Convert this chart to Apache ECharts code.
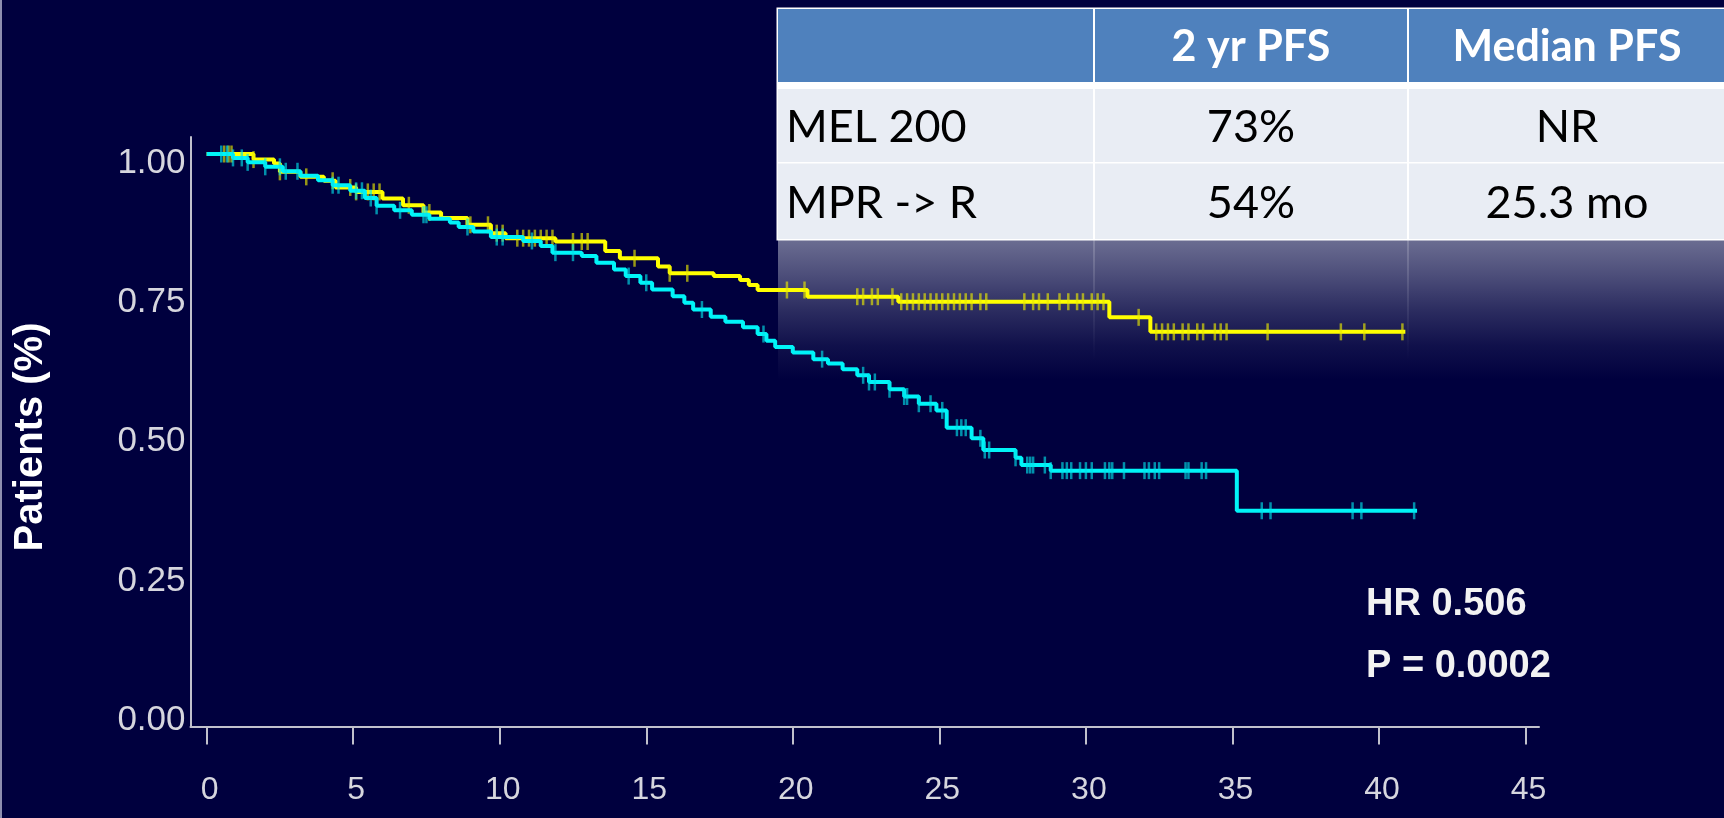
<!DOCTYPE html>
<html>
<head>
<meta charset="utf-8">
<style>
  html, body { margin: 0; padding: 0; background: #00003e; }
  #chart { width: 1724px; height: 818px; }
</style>
<script src="https://cdn.jsdelivr.net/npm/echarts@6/dist/echarts.min.js"></script>
</head>
<body>
<div id="chart"></div>
<script>
// Kaplan–Meier progression-free survival: months on x, proportion of patients on y.
const xTicks = [0, 5, 10, 15, 20, 25, 30, 35, 40, 45];
const yTicks = [0, 0.25, 0.5, 0.75, 1];

// [month, survival after the drop at that month]
const mel200Steps = [
  [0, 1], [1.6, 0.99], [2.3, 0.983], [2.5, 0.968], [3.2, 0.959], [4.0, 0.952],
  [4.4, 0.94], [5.1, 0.932], [6.0, 0.92], [6.7, 0.908], [7.4, 0.895], [8.0, 0.885],
  [8.9, 0.873], [9.7, 0.858], [10.2, 0.849], [11.9, 0.843], [13.6, 0.826], [14.1, 0.813],
  [15.4, 0.798], [15.8, 0.786], [17.3, 0.781], [18.2, 0.774], [18.5, 0.765], [18.8, 0.756],
  [20.5, 0.744], [23.6, 0.735], [30.8, 0.707], [32.2, 0.681], [40.9, 0.681]
];
const mel200Censored = [
  0.6, 0.75, 0.85, 1.6, 2.5, 3.4, 4.3, 4.9, 5.1, 5.5, 5.7, 5.9, 6.9, 7.6, 9.0, 9.6, 9.9, 10.1,
  10.6, 10.8, 11.0, 11.2, 11.4, 11.6, 11.8, 12.5, 12.8, 13.0, 14.6, 15.8, 16.4, 19.8, 20.4,
  22.2, 22.4, 22.7, 22.9, 23.4, 23.7, 23.9, 24.1, 24.3, 24.5, 24.7, 24.9, 25.1, 25.3, 25.5,
  25.7, 25.9, 26.1, 26.4, 26.6, 27.9, 28.2, 28.4, 28.7, 29.1, 29.4, 29.7, 29.9, 30.2, 30.4,
  30.6, 31.8, 32.4, 32.6, 32.8, 33.0, 33.3, 33.5, 33.8, 34.0, 34.4, 34.6, 34.8, 36.2, 38.7,
  39.5, 40.8
];

const mprSteps = [
  [0, 1], [0.9, 0.993], [1.4, 0.985], [2.0, 0.977], [2.6, 0.969], [3.2, 0.961], [3.8, 0.953],
  [4.3, 0.944], [4.9, 0.934], [5.4, 0.921], [5.8, 0.907], [6.4, 0.899], [7.0, 0.891],
  [7.6, 0.884], [8.3, 0.877], [8.6, 0.869], [9.1, 0.861], [9.7, 0.851], [10.8, 0.844],
  [11.4, 0.835], [11.8, 0.823], [12.8, 0.817], [13.3, 0.805], [13.9, 0.793], [14.3, 0.781],
  [14.8, 0.769], [15.2, 0.757], [15.9, 0.745], [16.3, 0.733], [16.6, 0.721], [17.2, 0.708],
  [17.7, 0.699], [18.3, 0.689], [18.8, 0.677], [19.1, 0.665], [19.4, 0.654], [20.0, 0.644],
  [20.7, 0.632], [21.2, 0.624], [21.7, 0.614], [22.2, 0.603], [22.6, 0.591], [23.3, 0.578],
  [23.8, 0.565], [24.3, 0.552], [24.9, 0.54], [25.25, 0.509], [26.1, 0.49], [26.5, 0.469],
  [27.6, 0.455], [27.8, 0.442], [28.8, 0.432], [35.15, 0.36], [41.3, 0.36]
];
const mprCensored = [
  0.5, 0.7, 0.9, 1.2, 1.4, 2.0, 2.5, 2.7, 3.1, 4.3, 4.5, 5.1, 5.3, 5.6, 5.8, 6.6, 7.4, 7.5,
  8.9, 9.9, 10.1, 11.1, 11.9, 12.5, 14.4, 15.0, 16.9, 19.0, 21.0, 22.4, 22.6, 22.8, 23.3,
  23.8, 23.9, 24.3, 24.7, 25.1, 25.6, 25.75, 25.9, 26.4, 26.55, 26.7, 27.6, 28.0, 28.1, 28.2,
  28.6, 28.8, 29.2, 29.35, 29.5, 29.8, 30.0, 30.2, 30.65, 30.8, 30.9, 31.3, 32.0, 32.15,
  32.35, 32.5, 33.4, 33.5, 33.95, 34.1, 36.0, 36.3, 39.1, 39.4, 41.2
];

const tableHeader = ['', '2 yr PFS', 'Median PFS'];
const tableRows = [
  ['MEL 200', '73%', 'NR'],
  ['MPR -> R', '54%', '25.3 mo']
];
const statLines = ['HR 0.506', 'P = 0.0002'];
const yAxisTitle = 'Patients (%)';

// survival value of a step curve at time t (value after the last drop at or before t)
function survivalAt(steps, t) {
  let v = steps[0][1];
  for (const [ti, vi] of steps) {
    if (ti <= t) v = vi; else break;
  }
  return v;
}

const AXIS_COLOR = '#c0c0cc';
const LABEL_COLOR = '#d6d6de';
const YELLOW = '#ffff00';
const CYAN = '#00f4f8';

// table geometry
const tblLeft = 778, tblRight = 1726;
const colEdges = [778, 1094, 1408, 1726];
const rowEdges = [[9, 82], [89, 162], [163.5, 239]];

function tableGraphics() {
  const els = [];
  els.push({ type: 'rect', z: 10, shape: { x: tblLeft - 1.5, y: 7.5, width: tblRight - tblLeft + 2, height: 233 },
             style: { fill: '#ffffff' } });
  for (let r = 0; r < 3; r++) {
    const [y0, y1] = rowEdges[r];
    const cells = r === 0 ? tableHeader : tableRows[r - 1];
    for (let c = 0; c < 3; c++) {
      const x0 = colEdges[c] + (c === 0 ? 0 : 1), x1 = colEdges[c + 1] - 1;
      els.push({ type: 'rect', z: 11, shape: { x: x0, y: y0, width: x1 - x0, height: y1 - y0 },
                 style: { fill: r === 0 ? '#4f81bd' : '#e9edf4' } });
      if (cells[c]) {
        const left = c === 0;
        els.push({ type: 'text', z: 12,
          x: left ? x0 + 8 : (x0 + x1) / 2, y: (y0 + y1) / 2 + 2,
          style: {
            text: cells[c],
            font: r === 0 ? 'bold 43px Lato' : '45px Lato',
            fill: r === 0 ? '#ffffff' : '#000000',
            align: left ? 'left' : 'center',
            verticalAlign: 'middle'
          } });
      }
    }
  }
  return els;
}

const chart = echarts.init(document.getElementById('chart'), null, { renderer: 'canvas' });

const option = {
  backgroundColor: '#00003e',
  animation: false,
  grid: { left: 190.5, right: 185, top: 137, bottom: 91.5 },
  xAxis: {
    type: 'value',
    min: -0.55, max: 45.46,
    splitLine: { show: false },
    axisLine: { show: true, onZero: false, lineStyle: { color: AXIS_COLOR, width: 2 } },
    axisTick: { show: true, customValues: xTicks, length: 18, lineStyle: { color: AXIS_COLOR, width: 2 } },
    axisLabel: {
      customValues: xTicks, margin: 48, fontSize: 32, color: LABEL_COLOR,
      fontFamily: 'Liberation Sans', padding: [0, 0, 0, 6]
    }
  },
  yAxis: {
    type: 'value',
    min: -0.027, max: 1.0305,
    splitLine: { show: false },
    axisLine: { show: true, onZero: false, lineStyle: { color: AXIS_COLOR, width: 2 } },
    axisTick: { show: false },
    axisLabel: {
      customValues: yTicks, formatter: v => v.toFixed(2), margin: 5, fontSize: 35,
      color: LABEL_COLOR, fontFamily: 'Liberation Sans',
      verticalAlign: 'top', lineHeight: 18
    }
  },
  graphic: {
    elements: [
      { type: 'rect', z: 0, shape: { x: 0, y: 0, width: 2, height: 818 }, style: { fill: 'rgba(190,190,215,0.75)' } },
      { type: 'rect', z: 0, shape: { x: 778, y: 240, width: 948, height: 140 },
        style: { fill: new echarts.graphic.LinearGradient(0, 0, 0, 1, [
          { offset: 0, color: 'rgba(233,237,244,0.46)' },
          { offset: 0.25, color: 'rgba(233,237,244,0.33)' },
          { offset: 0.5, color: 'rgba(233,237,244,0.19)' },
          { offset: 0.75, color: 'rgba(233,237,244,0.07)' },
          { offset: 1, color: 'rgba(233,237,244,0)' }
        ]) } },
      ...[1094, 1408].map(x => ({ type: 'rect', z: 0, shape: { x: x - 1, y: 240, width: 2, height: 120 },
        style: { fill: new echarts.graphic.LinearGradient(0, 0, 0, 1, [
          { offset: 0, color: 'rgba(255,255,255,0.18)' },
          { offset: 1, color: 'rgba(255,255,255,0)' }
        ]) } })),
      ...tableGraphics(),
      { type: 'text', z: 12, x: 1366, y: 605,
        style: { text: statLines[0], font: 'bold 38px "Liberation Sans"', fill: '#f2f2f2', align: 'left', verticalAlign: 'middle' } },
      { type: 'text', z: 12, x: 1366, y: 667,
        style: { text: statLines[1], font: 'bold 38px "Liberation Sans"', fill: '#f2f2f2', align: 'left', verticalAlign: 'middle' } },
      { type: 'text', z: 12, x: 31, y: 437, rotation: Math.PI / 2,
        style: { text: yAxisTitle, font: 'bold 40px "Liberation Sans"', fill: '#ffffff', align: 'center', verticalAlign: 'middle' } }
    ]
  },
  series: [
    {
      name: 'MEL 200', type: 'line', step: 'end', z: 5, symbol: 'none',
      data: mel200Steps,
      lineStyle: { color: YELLOW, width: 4 }
    },
    {
      name: 'MEL 200 censored', type: 'scatter', z: 5, symbol: 'rect', symbolSize: [2.5, 17],
      data: mel200Censored.map(t => [t, survivalAt(mel200Steps, t)]),
      itemStyle: { color: 'rgba(235,235,0,0.8)' }
    },
    {
      name: 'MPR -> R', type: 'line', step: 'end', z: 6, symbol: 'none',
      data: mprSteps,
      lineStyle: { color: CYAN, width: 4 }
    },
    {
      name: 'MPR -> R censored', type: 'scatter', z: 6, symbol: 'rect', symbolSize: [2.5, 17],
      data: mprCensored.map(t => [t, survivalAt(mprSteps, t)]),
      itemStyle: { color: 'rgba(0,225,235,0.8)' }
    }
  ]
};

chart.setOption(option);
</script>
</body>
</html>
